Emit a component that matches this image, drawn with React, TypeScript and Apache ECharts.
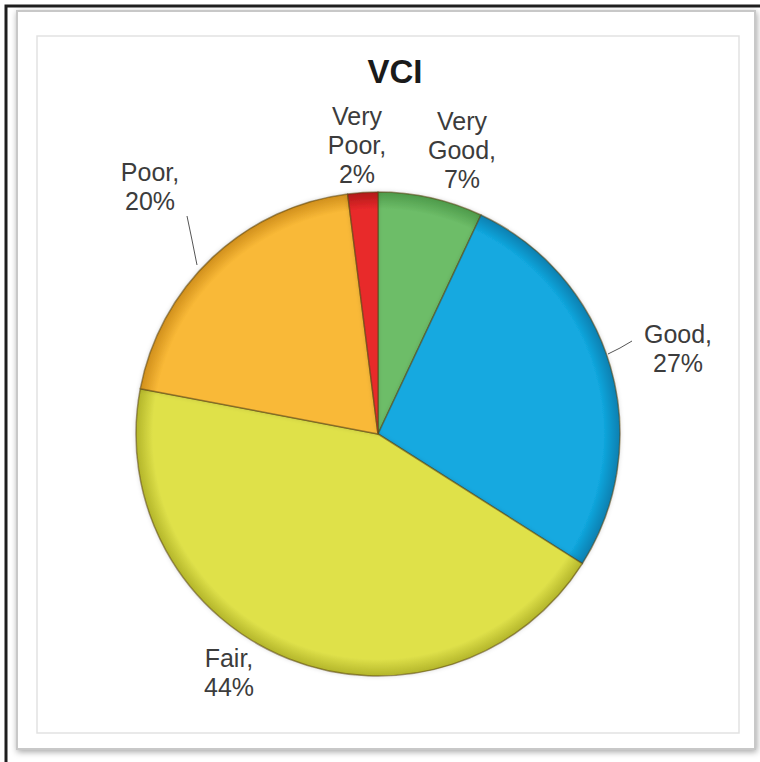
import React, { useEffect, useRef } from "react";
import * as echarts from "echarts";

const categories = ["Very Good", "Good", "Fair", "Poor", "Very Poor"];
const values = [7, 27, 44, 20, 2];
const colors = ["#6dbd68", "#12a9e0", "#dfe14a", "#f9b937", "#e8292b"];
const edgeColors = ["#4d9a4a", "#0b7fb0", "#b3b52a", "#d08f1c", "#b01818"];

// label block centres (layout only)
const labelPos: [number, number][] = [
  [462, 150],
  [678, 348],
  [229, 672],
  [150, 186],
  [357, 145],
];

const CX = 378;
const CY = 434;
const R = 242;

export default function App() {
  const ref = useRef<HTMLDivElement>(null);
  useEffect(() => {
    if (!ref.current) return;
    const chart = echarts.init(ref.current, undefined, { renderer: "svg" });
    const data = categories.map((name, i) => ({
      name,
      value: values[i],
      itemStyle: {
        color: {
          type: "radial",
          x: CX,
          y: CY,
          r: R,
          global: true,
          colorStops: [
            { offset: 0, color: colors[i] },
            { offset: 0.93, color: colors[i] },
            { offset: 1, color: edgeColors[i] },
          ],
        },
      },
    }));
    chart.setOption({
      animation: false,
      backgroundColor: "#ffffff",
      title: {
        text: "VCI",
        left: 390,
        top: 50,
        textAlign: "center",
        textStyle: {
          fontFamily: "Liberation Sans, Arial, sans-serif",
          fontSize: 33,
          fontWeight: "bold",
          color: "#1a1a1a",
        },
      },
      graphic: [
        {
          type: "rect",
          shape: { x: 6, y: 6, width: 820, height: 820 },
          style: { fill: "none", stroke: "#1e1e1e", lineWidth: 3 },
          z: 0,
        },
        {
          type: "rect",
          shape: { x: 17, y: 11, width: 738, height: 738 },
          style: {
            fill: "#ffffff",
            stroke: "#c8c8c8",
            lineWidth: 2,
            shadowBlur: 6,
            shadowColor: "rgba(0,0,0,0.35)",
            shadowOffsetX: 1,
            shadowOffsetY: 2,
          },
          z: -10,
        },
        {
          type: "rect",
          shape: { x: 37, y: 36, width: 702, height: 697 },
          style: { fill: "none", stroke: "#e2e2e2", lineWidth: 1.5 },
          z: -5,
        },
      ],
      series: [
        {
          type: "pie",
          center: [CX, CY],
          radius: R,
          startAngle: 90,
          clockwise: true,
          data,
          itemStyle: {
            borderColor: "rgba(90,70,20,0.55)",
            borderWidth: 1.5,
            shadowBlur: 4,
            shadowColor: "rgba(0,0,0,0.15)",
          },
          label: {
            show: true,
            position: "outside",
            formatter: (p: any) => {
              const n: string = p.name;
              const parts = n.split(" ");
              return parts.length > 1
                ? parts[0] + "\n" + parts[1] + ",\n" + p.value + "%"
                : n + ",\n" + p.value + "%";
            },
            fontFamily: "Liberation Sans, Arial, sans-serif",
            fontSize: 25,
            lineHeight: 29,
            color: "#3c3c3c",
            align: "center",
          },
          labelLine: {
            show: true,
            lineStyle: { color: "#555", width: 1 },
          },
          labelLayout: (params: any) => {
            const i = params.dataIndex;
            const [x, y] = labelPos[i];
            const out: any = { x, y, align: "center", verticalAlign: "middle" };
            if (i === 3) {
              out.labelLinePoints = [
                [197, 265],
                [192, 240],
                [187, 216],
              ];
            } else if (i === 1) {
              out.labelLinePoints = [
                [608, 354],
                [620, 348],
                [632, 341],
              ];
            } else {
              out.labelLinePoints = [
                [x, y],
                [x, y],
                [x, y],
              ];
            }
            return out;
          },
        },
      ],
    });
    return () => chart.dispose();
  }, []);
  return (
    <div
      ref={ref}
      style={{ position: "fixed", left: 0, top: 0, width: 760, height: 762 }}
    />
  );
}
